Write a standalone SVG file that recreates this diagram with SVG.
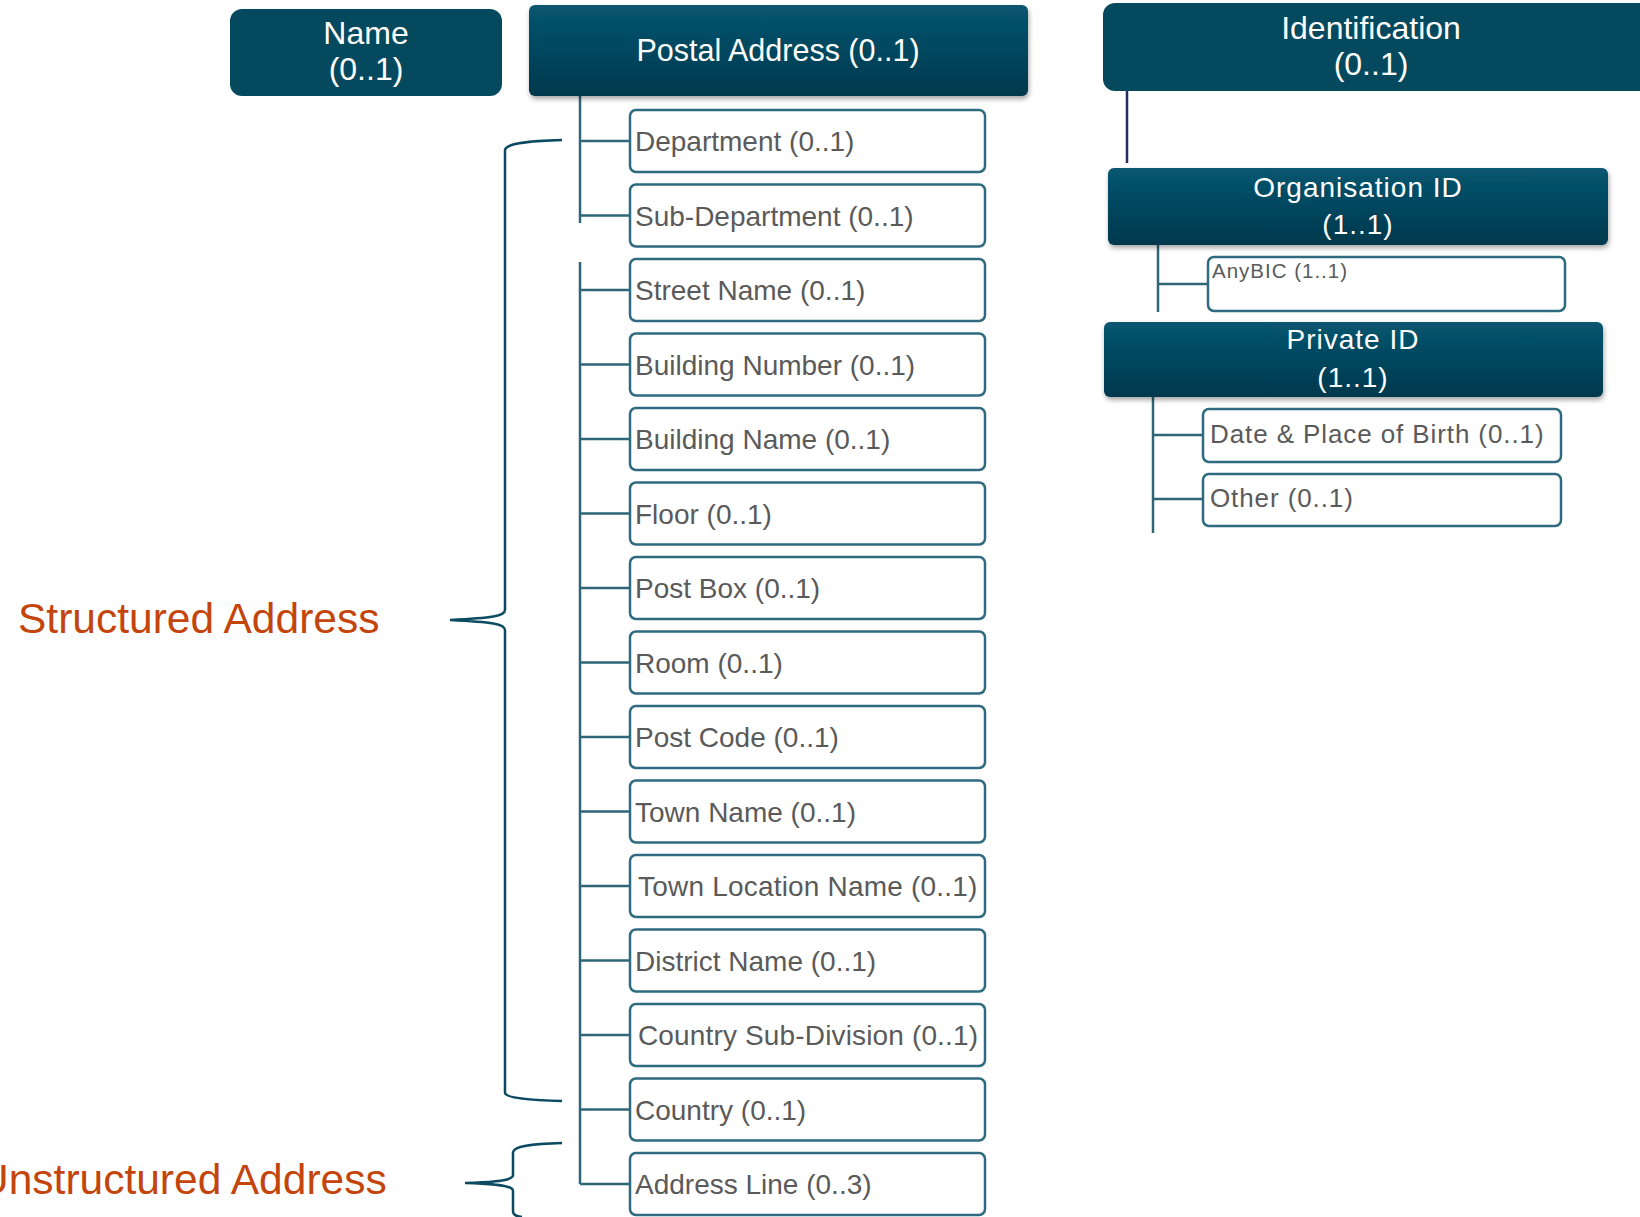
<svg xmlns="http://www.w3.org/2000/svg" width="1640" height="1217" viewBox="0 0 1640 1217">
<style>
.hdr{fill:#04495e}
.grad{fill:url(#hg);filter:url(#sh)}
.ht{font-family:"Liberation Sans",Arial,sans-serif;fill:#ffffff;text-anchor:middle}
.box{fill:#ffffff;stroke:#2e6b80;stroke-width:2.5}
.bt{font-family:"Liberation Sans",Arial,sans-serif;font-size:28px;fill:#5a5a5a}
.con{stroke:#2f6678;stroke-width:2.5;fill:none}
.brace{stroke:#0b4a62;stroke-width:2.5;fill:none}
.lbl{font-family:"Liberation Sans",Arial,sans-serif;font-size:42.5px;fill:#c4450c}
</style>
<defs>
<linearGradient id="hg" x1="0" y1="0" x2="0" y2="1">
<stop offset="0" stop-color="#075670"/>
<stop offset="1" stop-color="#02384d"/>
</linearGradient>
<filter id="sh" x="-5%" y="-10%" width="110%" height="130%">
<feDropShadow dx="1" dy="3" stdDeviation="2.5" flood-color="#000" flood-opacity="0.35"/>
</filter>
</defs>

<g id="connectors">
<line class="con" x1="580" y1="96" x2="580" y2="223"/>
<line class="con" x1="580" y1="262" x2="580" y2="1184"/>
<line class="con" x1="580" y1="141" x2="630" y2="141"/>
<line class="con" x1="580" y1="215.5" x2="630" y2="215.5"/>
<line class="con" x1="580" y1="290" x2="630" y2="290"/>
<line class="con" x1="580" y1="364.5" x2="630" y2="364.5"/>
<line class="con" x1="580" y1="439" x2="630" y2="439"/>
<line class="con" x1="580" y1="513.5" x2="630" y2="513.5"/>
<line class="con" x1="580" y1="588" x2="630" y2="588"/>
<line class="con" x1="580" y1="662.5" x2="630" y2="662.5"/>
<line class="con" x1="580" y1="737" x2="630" y2="737"/>
<line class="con" x1="580" y1="811.5" x2="630" y2="811.5"/>
<line class="con" x1="580" y1="886" x2="630" y2="886"/>
<line class="con" x1="580" y1="960.5" x2="630" y2="960.5"/>
<line class="con" x1="580" y1="1035" x2="630" y2="1035"/>
<line class="con" x1="580" y1="1109.5" x2="630" y2="1109.5"/>
<line class="con" x1="580" y1="1184" x2="630" y2="1184"/>
<line x1="1127" y1="91" x2="1127" y2="163" stroke="#1f2f60" stroke-width="2.5"/>
<line class="con" x1="1158" y1="245" x2="1158" y2="312"/>
<line class="con" x1="1158" y1="284" x2="1208" y2="284"/>
<line class="con" x1="1153" y1="397" x2="1153" y2="533"/>
<line class="con" x1="1153" y1="435" x2="1203" y2="435"/>
<line class="con" x1="1153" y1="499" x2="1203" y2="499"/>
</g>

<g id="structured-brace">
<path class="brace" d="M562,140 C530,141 506,143 505,150 L505,610 C505,616 492,618 450,620 C492,622 505,624 505,630 L505,1093 C506,1098 530,1100 562,1101"/>
<text class="lbl" x="18" y="633">Structured Address</text>
</g>
<g id="unstructured-brace">
<path class="brace" d="M562,1143 C530,1144 514,1146 513,1152 L513,1175 C513,1180 500,1182 465,1183 C500,1184 513,1186 513,1191 L513,1211 C513,1215 516,1216 522,1217"/>
<text class="lbl" x="-22" y="1194">Unstructured Address</text>
</g>

<g id="name">
<rect class="hdr" x="230" y="9" width="272" height="87" rx="12"/>
<text class="ht" x="366" y="44" font-size="32">Name</text>
<text class="ht" x="366" y="80" font-size="32">(0..1)</text>
</g>

<g id="postal-address">
<rect class="grad" x="529" y="5" width="499" height="91" rx="6"/>
<text class="ht" x="778" y="61" font-size="30.5" fill="#e8eef0">Postal Address (0..1)</text>
</g>

<g id="department"><rect class="box" x="630" y="110" width="355" height="62" rx="6"/><text class="bt" x="635" y="151">Department (0..1)</text></g>
<g id="sub-department"><rect class="box" x="630" y="184.5" width="355" height="62" rx="6"/><text class="bt" x="635" y="225.5">Sub-Department (0..1)</text></g>
<g id="street-name"><rect class="box" x="630" y="259" width="355" height="62" rx="6"/><text class="bt" x="635" y="300">Street Name (0..1)</text></g>
<g id="building-number"><rect class="box" x="630" y="333.5" width="355" height="62" rx="6"/><text class="bt" x="635" y="374.5">Building Number (0..1)</text></g>
<g id="building-name"><rect class="box" x="630" y="408" width="355" height="62" rx="6"/><text class="bt" x="635" y="449">Building Name (0..1)</text></g>
<g id="floor"><rect class="box" x="630" y="482.5" width="355" height="62" rx="6"/><text class="bt" x="635" y="523.5">Floor (0..1)</text></g>
<g id="post-box"><rect class="box" x="630" y="557" width="355" height="62" rx="6"/><text class="bt" x="635" y="598">Post Box (0..1)</text></g>
<g id="room"><rect class="box" x="630" y="631.5" width="355" height="62" rx="6"/><text class="bt" x="635" y="672.5">Room (0..1)</text></g>
<g id="post-code"><rect class="box" x="630" y="706" width="355" height="62" rx="6"/><text class="bt" x="635" y="747">Post Code (0..1)</text></g>
<g id="town-name"><rect class="box" x="630" y="780.5" width="355" height="62" rx="6"/><text class="bt" x="635" y="821.5">Town Name (0..1)</text></g>
<g id="town-location-name"><rect class="box" x="630" y="855" width="355" height="62" rx="6"/><text class="bt" x="638" y="896" letter-spacing="0.2">Town Location Name (0..1)</text></g>
<g id="district-name"><rect class="box" x="630" y="929.5" width="355" height="62" rx="6"/><text class="bt" x="635" y="970.5">District Name (0..1)</text></g>
<g id="country-sub-division"><rect class="box" x="630" y="1004" width="355" height="62" rx="6"/><text class="bt" x="638" y="1045" letter-spacing="0.15">Country Sub-Division (0..1)</text></g>
<g id="country"><rect class="box" x="630" y="1078.5" width="355" height="62" rx="6"/><text class="bt" x="635" y="1119.5">Country (0..1)</text></g>
<g id="address-line"><rect class="box" x="630" y="1153" width="355" height="62" rx="6"/><text class="bt" x="635" y="1194">Address Line (0..3)</text></g>

<g id="identification">
<rect class="hdr" x="1103" y="3" width="550" height="88" rx="12"/>
<text class="ht" x="1371" y="39" font-size="32">Identification</text>
<text class="ht" x="1371" y="75" font-size="32">(0..1)</text>
</g>

<g id="organisation-id">
<rect class="grad" x="1108" y="168" width="500" height="77" rx="6"/>
<text class="ht" x="1358" y="197" font-size="28" letter-spacing="1">Organisation ID</text>
<text class="ht" x="1358" y="234" font-size="28" letter-spacing="1">(1..1)</text>
</g>
<g id="anybic"><rect class="box" x="1208" y="257" width="357" height="54" rx="6"/><text class="bt" x="1212" y="278" style="font-size:20.5px" letter-spacing="1">AnyBIC (1..1)</text></g>

<g id="private-id">
<rect class="grad" x="1104" y="322" width="499" height="75" rx="6"/>
<text class="ht" x="1353" y="349" font-size="28" letter-spacing="1">Private ID</text>
<text class="ht" x="1353" y="387" font-size="28" letter-spacing="1">(1..1)</text>
</g>
<g id="date-place-of-birth"><rect class="box" x="1203" y="409" width="358" height="53" rx="6"/><text class="bt" x="1210" y="443" style="font-size:26px" letter-spacing="0.9">Date &amp; Place of Birth (0..1)</text></g>
<g id="other"><rect class="box" x="1203" y="474" width="358" height="52" rx="6"/><text class="bt" x="1210" y="507" style="font-size:26px" letter-spacing="0.9">Other (0..1)</text></g>
</svg>
